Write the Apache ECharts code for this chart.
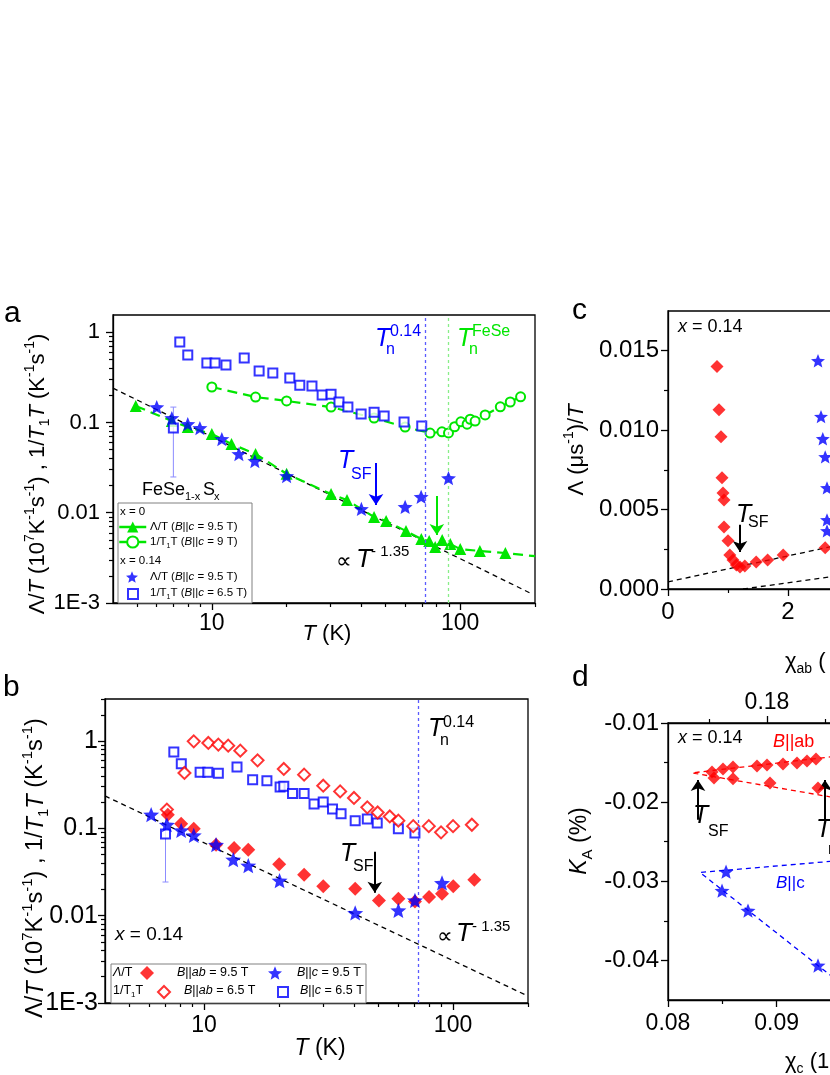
<!DOCTYPE html>
<html><head><meta charset="utf-8">
<script src="https://cdn.jsdelivr.net/npm/echarts@6/dist/echarts.min.js"></script>
<style>html,body{margin:0;padding:0;background:#fff}#c{width:830px;height:1075px}</style>
</head><body><div id="c"></div>
<script>
const FONT = 'Liberation Sans, Arial, Helvetica, sans-serif';
const STAR = 'path://M50,0 L62.9,32.2 L97.55,34.55 L70.9,56.8 L79.39,90.45 L50,72 L20.61,90.45 L29.1,56.8 L2.45,34.55 L37.1,32.2 Z';
const BLUE = '#0000ff', GREEN = '#00e600', RED = '#ff0000', BLACK = '#000';

// ---------- tick values ----------
const logMajorX = [10, 100];
const logMinorX = [5, 6, 7, 8, 9, 20, 30, 40, 50, 60, 70, 80, 90, 200];
const logMajorY = [0.001, 0.01, 0.1, 1];
const logMinorY = [0.002,0.003,0.004,0.005,0.006,0.007,0.008,0.009,0.02,0.03,0.04,0.05,0.06,0.07,0.08,0.09,0.2,0.3,0.4,0.5,0.6,0.7,0.8,0.9,2,3];
const logLabels = {0.001: '1E-3', 0.01: '0.01', 0.1: '0.1', 1: '1', 10: '10', 100: '100'};
const cMajorY = [0, 0.005, 0.010, 0.015];
const cMinorY = [0.0025, 0.0075, 0.0125];
const dMajorY = [-0.04, -0.03, -0.02, -0.01];
const dMinorY = [-0.035, -0.025, -0.015];
const dTopMajor = [0.18, 0.20, 0.22];
const dTopMinor = [0.17, 0.19, 0.21, 0.23];

// ---------- panel a ----------
const aTriangles = [[4.94,0.152],[6.9,0.104],[8.0,0.0889],[10,0.0744],[12.0,0.0577],[15.0,0.0447],[20,0.027],[30.2,0.0161],[35,0.0138],[45,0.00896],[50.3,0.0081],[60.5,0.00627],[69.7,0.00511],[75,0.00486],[79.3,0.00417],[84.6,0.005],[91.2,0.0045],[100,0.00396],[120,0.00377],[152,0.00358]];
const aTriTail = [200, 0.0033];
const aCircles = [[10,0.247],[15,0.191],[20,0.173],[30.2,0.148],[45,0.112],[60,0.0889],[75.6,0.0763],[84.4,0.0787],[89.7,0.0765],[94.9,0.0896],[100.6,0.1015],[106.6,0.0957],[109.7,0.1085],[114.8,0.1037],[126,0.121],[145,0.149],[159,0.1685],[175,0.1925]];
const aStars = [[6.0,0.148],[6.9,0.112],[8.0,0.096],[8.95,0.0867],[10.97,0.0655],[12.85,0.0447],[14.9,0.0374],[20,0.0255],[40,0.011],[60,0.0116],[69.6,0.015],[89.7,0.0242]];
const aSquares = [[7.0,0.0867],[7.43,0.776],[8.0,0.557],[9.55,0.455],[10.3,0.455],[11.4,0.432],[13.5,0.516],[15.5,0.371],[17.6,0.352],[20.6,0.310],[22.6,0.259],[25.3,0.253],[27.8,0.201],[30.2,0.205],[32.5,0.168],[35.3,0.148],[39.9,0.124],[45,0.130],[49.4,0.118],[59.4,0.101],[70,0.0912]];
const aErrBars = [[7.0,0.148,0.0249]];
const aPowerLaw = [[4,0.24],[190,0.0013]];
const aTn014 = 72.3, aTnFeSe = 89.5;
const aArrowSF = [[45.8,0.0355],[45.8,0.0122]];
const aArrowFeSe = [[80.5,0.0153],[80.5,0.00567]];

// ---------- panel b ----------
const bSquares = [[7.0,0.0863],[7.56,0.750],[8.1,0.551],[9.64,0.440],[10.35,0.440],[11.41,0.427],[13.56,0.505],[15.67,0.361],[17.88,0.352],[20.2,0.298],[20.9,0.303],[22.66,0.25],[25.22,0.25],[27.65,0.190],[30.1,0.201],[32.8,0.167],[35.5,0.147],[40.45,0.1225],[45.25,0.128],[49.6,0.115],[60.3,0.0992],[70.3,0.0886]];
const bOpenDiamonds = [[7.09,0.164],[8.34,0.431],[9.09,0.992],[10.4,0.951],[11.41,0.910],[12.5,0.886],[13.98,0.776],[16.4,0.601],[20.9,0.479],[25.22,0.412],[30.1,0.308],[35.2,0.265],[40,0.223],[45.25,0.174],[49.8,0.152],[55.7,0.137],[60.3,0.1225],[69.2,0.106],[79.9,0.106],[89.5,0.090],[100,0.106],[119,0.110]];
const bDiamonds = [[7.15,0.1436],[8.09,0.113],[9.09,0.0992],[11.17,0.065],[13.2,0.0596],[15.05,0.057],[20.03,0.0389],[25.22,0.0295],[30.1,0.0217],[40.45,0.0204],[50.4,0.01497],[60.3,0.01566],[70.3,0.01458],[80.1,0.01638],[90.3,0.01787],[100.2,0.0217],[121.7,0.0258]];
const bStars = [[6.13,0.1436],[7.09,0.110],[8.09,0.0948],[9.09,0.0831],[11.17,0.065],[13.1,0.0438],[15.05,0.0374],[20.1,0.0252],[40.45,0.01074],[60.3,0.0115],[70.3,0.01497],[90.3,0.0237]];
const bErrBars = [[7.0,0.155,0.0243]];
const bPowerLaw = [[4,0.235],[200,0.00120]];
const bTn014 = 72.4;
const bArrowSF = [[48.5,0.0541],[48.5,0.0183]];

// ---------- panel c ----------
const cDiamonds = [[0.817,0.0140],[0.85,0.01129],[0.883,0.00958],[0.9,0.0070],[0.917,0.00605],[0.933,0.00561],[0.933,0.00391],[1.0,0.00303],[1.03,0.00214],[1.083,0.00183],[1.14,0.00151],[1.2,0.00139],[1.28,0.00145],[1.47,0.0017],[1.66,0.00183],[1.92,0.00214],[2.62,0.00259]];
const cStars = [[2.5,0.01437],[2.55,0.01085],[2.58,0.00946],[2.62,0.00832],[2.65,0.00637],[2.65,0.00435],[2.65,0.00366]];
const cLine1 = [[0,0.00045],[3,0.0029]];
const cLine2 = [[1.25,0],[3,0.00092]];
const cArrowSF = [[1.2,0.00404],[1.2,0.00233]];

// ---------- panel d ----------
const dStars = [[0.08534,-0.02879],[0.08497,-0.03119],[0.08736,-0.03371],[0.0938,-0.04064]];
const dBlueV = [[0.1,-0.0269],[0.08294,-0.02888],[0.0965,-0.04357]];
const dDiamonds = [[0.17052,-0.01618],[0.17241,-0.0158],[0.17414,-0.01555],[0.17828,-0.01542],[0.18,-0.0153],[0.18276,-0.01517],[0.18517,-0.01504],[0.1869,-0.01479],[0.18845,-0.01454],[0.17086,-0.01694],[0.17414,-0.01706],[0.18052,-0.01757],[0.18879,-0.0182]];
const dRedV = [[0.21,-0.01267],[0.16707,-0.0163],[0.21,-0.02177]];
const dArrows = [[[0.08276,-0.02223],[0.08276,-0.01719]],[[0.09444,-0.02223],[0.09444,-0.01719]]];

// ---------- helpers ----------
function rs(fs, color) {
  const b = {fontFamily: FONT, fill: color, color: color};
  const lh = Math.round(fs * 1.3);
  return {
    n: Object.assign({}, b, {fontSize: fs, lineHeight: lh}),
    it: Object.assign({}, b, {fontSize: fs, fontStyle: 'italic', lineHeight: lh}),
    sup: Object.assign({}, b, {fontSize: Math.round(fs * 0.64), verticalAlign: 'top'}),
    sub: Object.assign({}, b, {fontSize: Math.round(fs * 0.64), verticalAlign: 'bottom'})
  };
}
function txt(x, y, text, fs, color, align, rot) {
  color = color || BLACK; align = align || 'left';
  return {type: 'text', x: x, y: y, rotation: rot || 0, silent: true, z: 100,
    style: {text: text, rich: rs(fs, color), fill: color, fontSize: fs, fontFamily: FONT,
      align: align, verticalAlign: 'middle', textAlign: align, textVerticalAlign: 'middle'}};
}
const lblStyle = (fs) => ({color: BLACK, fontSize: fs, fontFamily: FONT});
function logAxis(grid, pos, min, max, major, minor, fs, margin) {
  const base = {type: 'log', gridIndex: grid, min: min, max: max, position: pos,
    splitLine: {show: false}, minorTick: {show: false}, minorSplitLine: {show: false}};
  return [
    Object.assign({}, base, {
      axisLine: {show: true, onZero: false, lineStyle: {color: BLACK, width: 1.3}},
      axisTick: {show: true, length: 7, customValues: major, lineStyle: {color: BLACK, width: 1.3}},
      axisLabel: Object.assign(lblStyle(fs), {show: true, margin: margin, customValues: major,
        formatter: v => { for (const k in logLabels) { if (Math.abs(+k - v) < 1e-9 * Math.max(1, v)) return logLabels[k]; } return ''; }})
    }),
    Object.assign({}, base, {
      axisLine: {show: false, onZero: false},
      axisTick: {show: true, length: 4, customValues: minor, lineStyle: {color: BLACK, width: 1.2}},
      axisLabel: {show: false}
    })
  ];
}
function valMinor(grid, pos, min, max, vals) {
  return {type: 'value', gridIndex: grid, min: min, max: max, position: pos,
    splitLine: {show: false}, axisLine: {show: false, onZero: false}, axisLabel: {show: false},
    axisTick: {show: true, length: 4, customValues: vals, lineStyle: {color: BLACK, width: 1.2}}};
}
function arrowML(pairs, color) {
  return {silent: true, animation: false, symbol: ['none', 'arrow'], symbolSize: 11, precision: 6,
    label: {show: false}, emphasis: {disabled: true},
    lineStyle: {color: color, width: 2, type: 'solid'},
    data: pairs.map(p => [{coord: p[0]}, {coord: p[1]}])};
}
function vlineML(x, color) {
  return {silent: true, animation: false, symbol: ['none', 'none'], label: {show: false}, emphasis: {disabled: true},
    lineStyle: {color: color, width: 1.3, type: [3, 3]}, data: [{xAxis: x}]};
}
function errSeries(data, xi, yi) {
  return {type: 'custom', xAxisIndex: xi, yAxisIndex: yi, data: data, encode: {x: 0, y: [1, 2]}, silent: true, z: 1,
    renderItem: (params, api) => {
      const t = api.coord([api.value(0), api.value(1)]);
      const b = api.coord([api.value(0), api.value(2)]);
      const st = {stroke: '#8c8cff', lineWidth: 1};
      return {type: 'group', children: [
        {type: 'line', shape: {x1: t[0], y1: t[1], x2: b[0], y2: b[1]}, style: st},
        {type: 'line', shape: {x1: t[0] - 3, y1: t[1], x2: t[0] + 3, y2: t[1]}, style: st},
        {type: 'line', shape: {x1: b[0] - 3, y1: b[1], x2: b[0] + 3, y2: b[1]}, style: st}
      ]};
    }};
}
const dashBlack = {color: BLACK, width: 1.3, type: [5, 4]};

const [ax0, ax1] = logAxis(0, 'bottom', 4, 200, logMajorX, logMinorX, 23, 9);
const [ax2, ax3] = logAxis(1, 'bottom', 4, 200, logMajorX, logMinorX, 23, 11);
const [ay0, ay1] = logAxis(0, 'left', 0.001, 1.55, logMajorY, logMinorY, 22, 13);
const [ay2, ay3] = logAxis(1, 'left', 0.001, 3.03, logMajorY, logMinorY, 25, 7);

const axLine = {show: true, onZero: false, lineStyle: {color: BLACK, width: 1.3}};
const axTick = {show: true, length: 7, lineStyle: {color: BLACK, width: 1.3}};

const option = {
  animation: false,
  backgroundColor: '#fff',
  textStyle: {fontFamily: FONT},
  grid: [
    {left: 113, top: 315, width: 422, height: 288, show: true, borderColor: BLACK, borderWidth: 1.3, outerBoundsMode: 'none'},
    {left: 105, top: 699, width: 423, height: 304, show: true, borderColor: BLACK, borderWidth: 1.3, outerBoundsMode: 'none'},
    {left: 668, top: 311, width: 360, height: 278, show: true, borderColor: BLACK, borderWidth: 1.3, outerBoundsMode: 'none'},
    {left: 668, top: 723, width: 434.8, height: 277, show: true, borderColor: BLACK, borderWidth: 1.3, outerBoundsMode: 'none'}
  ],
  xAxis: [
    ax0, ax1, ax2, ax3,
    {type: 'value', gridIndex: 2, min: 0, max: 6, interval: 2, position: 'bottom', splitLine: {show: false},
      axisLine: axLine, axisTick: axTick, minorTick: {show: true, splitNumber: 2, length: 4, lineStyle: {color: BLACK, width: 1.2}},
      axisLabel: Object.assign(lblStyle(24), {margin: 11})},
    {type: 'value', gridIndex: 3, min: 0.08, max: 0.12, interval: 0.01, position: 'bottom', splitLine: {show: false},
      axisLine: axLine, axisTick: axTick, minorTick: {show: true, splitNumber: 2, length: 4, lineStyle: {color: BLACK, width: 1.2}},
      axisLabel: Object.assign(lblStyle(23), {margin: 12, formatter: v => v.toFixed(2)})},
    {type: 'value', gridIndex: 3, min: 0.16293, max: 0.2379, position: 'top', splitLine: {show: false},
      axisLine: axLine, axisTick: Object.assign({}, axTick, {customValues: dTopMajor}),
      axisLabel: Object.assign(lblStyle(23), {margin: 9, customValues: dTopMajor, formatter: v => v.toFixed(2)})},
    valMinor(3, 'top', 0.16293, 0.2379, dTopMinor)
  ],
  yAxis: [
    ay0, ay1, ay2, ay3,
    {type: 'value', gridIndex: 2, min: 0, max: 0.0175, position: 'left', splitLine: {show: false},
      axisLine: axLine, axisTick: Object.assign({}, axTick, {customValues: cMajorY}),
      axisLabel: Object.assign(lblStyle(24), {margin: 9, customValues: cMajorY, formatter: v => v.toFixed(3)})},
    valMinor(2, 'left', 0, 0.0175, cMinorY),
    {type: 'value', gridIndex: 3, min: -0.045, max: -0.01, position: 'left', splitLine: {show: false},
      axisLine: axLine, axisTick: Object.assign({}, axTick, {customValues: dMajorY}),
      axisLabel: Object.assign(lblStyle(24), {margin: 9, customValues: dMajorY, formatter: v => v.toFixed(2)})},
    valMinor(3, 'left', -0.045, -0.01, dMinorY)
  ],
  legend: [],
  series: [
    // ----- a -----
    {name: 'aFit', type: 'line', xAxisIndex: 0, yAxisIndex: 0, data: aPowerLaw, symbol: 'none', lineStyle: dashBlack, z: 2, silent: true},
    {name: 'aTri', type: 'line', xAxisIndex: 0, yAxisIndex: 0, showAllSymbol: true,
      data: aTriangles.concat([{value: aTriTail, symbol: 'none'}]),
      symbol: 'triangle', symbolSize: 12, itemStyle: {color: GREEN},
      lineStyle: {color: GREEN, width: 2.2, type: [10, 6]}, z: 3, markLine: arrowML([aArrowFeSe], GREEN)},
    {name: 'aCirc', type: 'line', xAxisIndex: 0, yAxisIndex: 0, showAllSymbol: true, data: aCircles,
      symbol: 'emptyCircle', symbolSize: 9, itemStyle: {color: GREEN, borderColor: GREEN, borderWidth: 2},
      lineStyle: {color: GREEN, width: 2.2, type: [10, 6]}, z: 3, markLine: vlineML(aTnFeSe, '#88ee88')},
    errSeries(aErrBars, 0, 0),
    {name: 'aSq', type: 'scatter', xAxisIndex: 0, yAxisIndex: 0, data: aSquares,
      symbol: 'emptyRect', symbolSize: 9, itemStyle: {color: BLUE, borderColor: BLUE, borderWidth: 1.8}, z: 4,
      markLine: vlineML(aTn014, '#5a5aff')},
    {name: 'aStar', type: 'scatter', xAxisIndex: 0, yAxisIndex: 0, data: aStars,
      symbol: STAR, symbolKeepAspect: true, symbolSize: 15, itemStyle: {color: BLUE}, z: 5,
      markLine: arrowML([aArrowSF], BLUE)},
    // ----- b -----
    {name: 'bFit', type: 'line', xAxisIndex: 2, yAxisIndex: 2, data: bPowerLaw, symbol: 'none', lineStyle: dashBlack, z: 2, silent: true,
      markLine: arrowML([bArrowSF], BLACK)},
    errSeries(bErrBars, 2, 2),
    {name: 'bSq', type: 'scatter', xAxisIndex: 2, yAxisIndex: 2, data: bSquares,
      symbol: 'emptyRect', symbolSize: 9, itemStyle: {color: BLUE, borderColor: BLUE, borderWidth: 1.8}, z: 4,
      markLine: vlineML(bTn014, '#5a5aff')},
    {name: 'bOD', type: 'scatter', xAxisIndex: 2, yAxisIndex: 2, data: bOpenDiamonds,
      symbol: 'emptyDiamond', symbolSize: 12, itemStyle: {color: RED, borderColor: RED, borderWidth: 2}, z: 4},
    {name: 'bFD', type: 'scatter', xAxisIndex: 2, yAxisIndex: 2, data: bDiamonds,
      symbol: 'diamond', symbolSize: 14, itemStyle: {color: RED}, z: 5},
    {name: 'bStar', type: 'scatter', xAxisIndex: 2, yAxisIndex: 2, data: bStars,
      symbol: STAR, symbolKeepAspect: true, symbolSize: 16, itemStyle: {color: BLUE}, z: 6},
    // ----- c -----
    {name: 'cFit1', type: 'line', xAxisIndex: 4, yAxisIndex: 4, data: cLine1, symbol: 'none', lineStyle: dashBlack, z: 2, silent: true,
      markLine: arrowML([cArrowSF], BLACK)},
    {name: 'cFit2', type: 'line', xAxisIndex: 4, yAxisIndex: 4, data: cLine2, symbol: 'none', lineStyle: dashBlack, z: 2, silent: true},
    {name: 'cDia', type: 'scatter', xAxisIndex: 4, yAxisIndex: 4, data: cDiamonds,
      symbol: 'diamond', symbolSize: 13, itemStyle: {color: RED}, z: 5},
    {name: 'cStar', type: 'scatter', xAxisIndex: 4, yAxisIndex: 4, data: cStars,
      symbol: STAR, symbolKeepAspect: true, symbolSize: 14, itemStyle: {color: BLUE}, z: 5},
    // ----- d -----
    {name: 'dBlueFit', type: 'line', xAxisIndex: 5, yAxisIndex: 6, data: dBlueV, symbol: 'none',
      lineStyle: {color: BLUE, width: 1.3, type: [5, 4]}, z: 2, silent: true},
    {name: 'dStar', type: 'scatter', xAxisIndex: 5, yAxisIndex: 6, data: dStars,
      symbol: STAR, symbolKeepAspect: true, symbolSize: 15, itemStyle: {color: BLUE}, z: 5,
      markLine: arrowML(dArrows, BLACK)},
    {name: 'dRedFit', type: 'line', xAxisIndex: 6, yAxisIndex: 6, data: dRedV, symbol: 'none',
      lineStyle: {color: RED, width: 1.3, type: [5, 4]}, z: 2, silent: true},
    {name: 'dDia', type: 'scatter', xAxisIndex: 6, yAxisIndex: 6, data: dDiamonds,
      symbol: 'diamond', symbolSize: 13, itemStyle: {color: RED}, z: 5}
  ],
  graphic: []
};

// ---------- legends (icons only) ----------
function leg(name, left, top, w, h) {
  return {data: [name], left: left, top: top, itemWidth: w, itemHeight: h, padding: 0, itemGap: 0, z: 60,
    selectedMode: false, formatter: () => '', textStyle: {fontSize: 1}, lineStyle: {type: 'solid', width: 2.5}};
}
option.legend = [
  leg('aTri', 118, 520, 27, 14), leg('aCirc', 118, 535, 27, 14),
  leg('aStar', 126, 571, 12, 12), leg('aSq', 127, 588, 10, 10),
  leg('bFD', 140, 966, 14, 14), leg('bOD', 157, 985, 12, 12),
  leg('bStar', 268, 966, 14, 14), leg('bSq', 277, 986, 10, 10)
];

// ---------- texts ----------
const G = [];
// panel letters
G.push(txt(4, 314, '{n|a}', 30), txt(3, 688, '{n|b}', 30), txt(572, 311, '{n|c}', 30), txt(572, 678, '{n|d}', 30));
// axis titles
G.push(txt(38, 474, '{n|Λ/}{it|T}{n| (10}{sup|7}{n|K}{sup|-1}{n|s}{sup|-1}{n|) , 1/}{it|T}{sub|1}{it|T}{n| (K}{sup|-1}{n|s}{sup|-1}{n|)}', 22, BLACK, 'center', Math.PI / 2));
G.push(txt(36, 868, '{n|Λ/}{it|T}{n| (10}{sup|7}{n|K}{sup|-1}{n|s}{sup|-1}{n|) , 1/}{it|T}{sub|1}{it|T}{n| (K}{sup|-1}{n|s}{sup|-1}{n|)}', 23.5, BLACK, 'center', Math.PI / 2));
G.push(txt(327, 634, '{it|T}{n| (K)}', 22, BLACK, 'center'));
G.push(txt(320, 1049, '{it|T}{n| (K)}', 23, BLACK, 'center'));
G.push(txt(577, 450, '{n|Λ (μs}{sup|-1}{n|)/}{it|T}', 22, BLACK, 'center', Math.PI / 2));
G.push(txt(580, 841, '{it|K}{sub|A}{n| (%)}', 23, BLACK, 'center', Math.PI / 2));
G.push(txt(785, 662, '{n|χ}{sub|ab}{n| (}', 22));
G.push(txt(785, 1062, '{n|χ}{sub|c}{n| (1}', 22));
// panel a annotations
G.push(txt(375, 339, '{it|T}', 25, BLUE), txt(390, 332, '{n|0.14}', 16, BLUE), txt(386, 350, '{n|n}', 16, BLUE));
G.push(txt(457, 339, '{it|T}', 25, GREEN), txt(472, 332, '{n|FeSe}', 16, GREEN), txt(469, 350, '{n|n}', 16, GREEN));
G.push(txt(338, 461, '{it|T}', 25, BLUE), txt(351, 475, '{n|SF}', 16, BLUE));
G.push(txt(336, 562, '{n|∝}', 22), txt(356, 560, '{it|T}', 26), txt(371, 552, '{n|- 1.35}', 15));
G.push(txt(142, 490, '{n|FeSe}', 18), txt(185, 497, '{n|1-x}', 11), txt(203, 490, '{n|S}', 18), txt(214, 497, '{n|x}', 11));
// legend a
G.push({type: 'rect', shape: {x: 118, y: 503, width: 134, height: 100}, style: {fill: '#fff', stroke: '#808080', lineWidth: 1}, z: 50, silent: true});
G.push(txt(120, 512, '{n|x = 0}', 11.5));
G.push(txt(150, 527, '{n|Λ/T (}{it|B}{n|||}{it|c}{n| = 9.5 T)}', 11.5));
G.push(txt(150, 542, '{n|1/T}{sub|1}{n|T (}{it|B}{n|||}{it|c}{n| = 9 T)}', 11.5));
G.push(txt(120, 561, '{n|x = 0.14}', 11.5));
G.push(txt(150, 577, '{n|Λ/T (}{it|B}{n|||}{it|c}{n| = 9.5 T)}', 11.5));
G.push(txt(150, 593, '{n|1/T}{sub|1}{n|T (}{it|B}{n|||}{it|c}{n| = 6.5 T)}', 11.5));
// panel b annotations
G.push(txt(428, 729, '{it|T}', 25), txt(443, 723, '{n|0.14}', 16), txt(440, 741, '{n|n}', 16));
G.push(txt(340, 854, '{it|T}', 25), txt(353, 867, '{n|SF}', 16));
G.push(txt(437, 937, '{n|∝}', 22), txt(456, 934, '{it|T}', 26), txt(472, 927, '{n|- 1.35}', 15));
G.push(txt(115, 935, '{it|x}{n| = 0.14}', 19));
// legend b
G.push({type: 'rect', shape: {x: 111, y: 964, width: 255, height: 39}, style: {fill: '#fff', stroke: '#808080', lineWidth: 1}, z: 50, silent: true});
G.push(txt(113, 973, '{it|Λ}{n|/T}', 12.5));
G.push(txt(177, 973, '{it|B}{n|||}{it|ab}{n| = 9.5 T}', 12.5));
G.push(txt(297, 973, '{it|B}{n|||}{it|c}{n| = 9.5 T}', 12.5));
G.push(txt(113, 991, '{n|1/T}{sub|1}{n|T}', 12.5));
G.push(txt(184, 991, '{it|B}{n|||}{it|ab}{n| = 6.5 T}', 12.5));
G.push(txt(300, 991, '{it|B}{n|||}{it|c}{n| = 6.5 T}', 12.5));
// panel c annotations
G.push(txt(678, 327, '{it|x}{n| = 0.14}', 18));
G.push(txt(736, 515, '{it|T}', 25), txt(748, 523, '{n|SF}', 16));
// panel d annotations
G.push(txt(678, 738, '{it|x}{n| = 0.14}', 18));
G.push(txt(773, 742, '{it|B}{n|||ab}', 18, RED));
G.push(txt(693, 816, '{it|T}', 25), txt(708, 832, '{n|SF}', 16));
G.push(txt(816, 830, '{it|T}', 25), txt(828, 850, '{n|n}', 16));
G.push(txt(776, 883, '{it|B}{n|||c}', 17, BLUE));
option.graphic = G;

const chart = echarts.init(document.getElementById('c'), null, {renderer: 'canvas'});
chart.setOption(option);
</script>
</body></html>
